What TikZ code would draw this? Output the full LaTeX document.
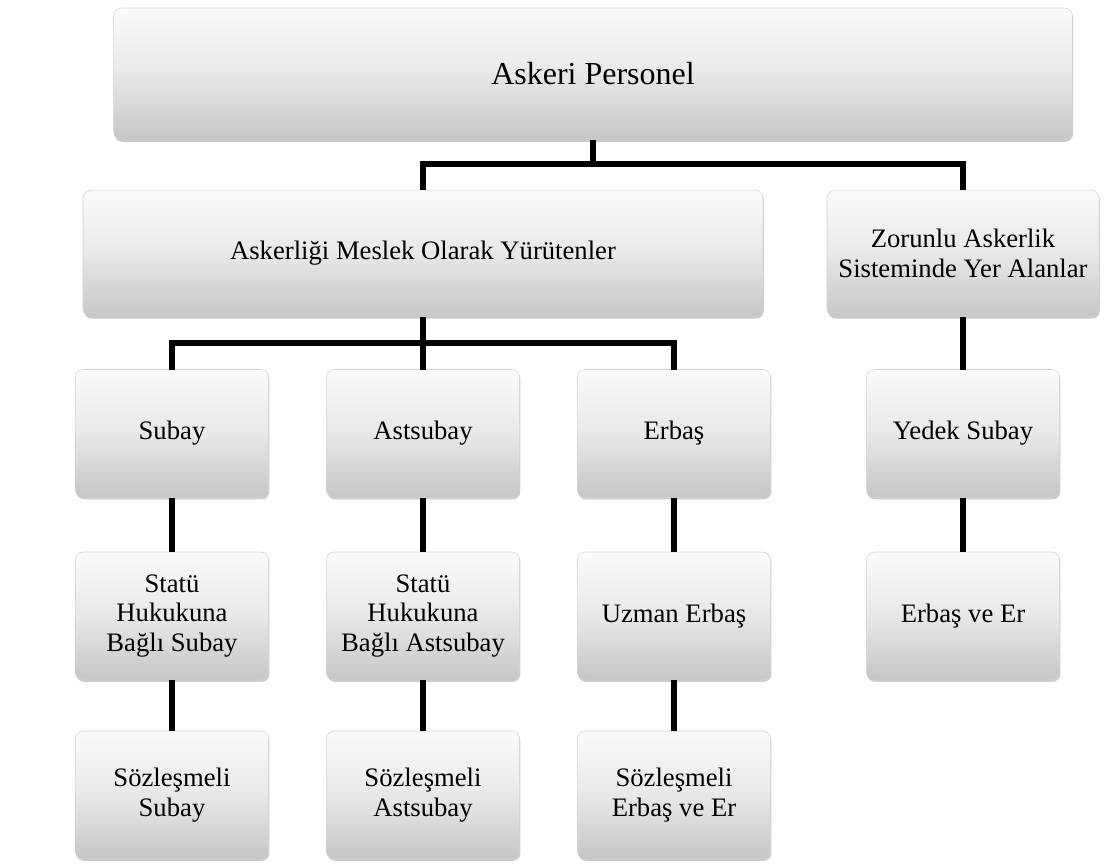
\documentclass[tikz,border=0pt]{standalone}
\usepackage{fontspec}
\setmainfont{Liberation Serif}
\usetikzlibrary{positioning,shadows}
\definecolor{boxtop}{HTML}{FBFBFB}
\definecolor{boxmid}{HTML}{E8E8E8}
\definecolor{boxbot}{HTML}{C6C6C6}
\definecolor{boxedge}{HTML}{D2D2D2}
\tikzset{
  box/.style={draw=boxedge, line width=0.4pt, rounded corners=6pt, top color=boxtop, bottom color=boxbot, middle color=boxmid, align=center, outer sep=0pt, inner sep=4pt, font=\fontsize{20}{22}\selectfont, drop shadow={shadow xshift=0.6pt, shadow yshift=-1.4pt, opacity=0.35, fill=black!60}},
  headbox/.style={box, minimum width=719pt, minimum height=99pt, font=\fontsize{24}{28}\selectfont},
  groupbox/.style={box, minimum height=95pt},
  rankbox/.style={box, minimum width=145pt, minimum height=96pt},
  conn/.style={line width=3.8pt, black},
}

\begin{document}
\begin{tikzpicture}[x=0.75pt, y=-0.75pt]
  \useasboundingbox (0,0) rectangle (1105,866);
  \node[headbox] (pers) at (593,74) {Askeri Personel};
  \node[groupbox, minimum width=510pt] (meslek) at (423,253.5) {Askerliği Meslek Olarak Yürütenler};
  \node[groupbox, minimum width=204pt] (zorunlu) at (963,253.5) {Zorunlu Askerlik\\Sisteminde Yer Alanlar};
  % meslek kolu
  \node[rankbox] (subay) at (172,433.5) {Subay};
  \node[rankbox] (astsubay) at (423,433.5) {Astsubay};
  \node[rankbox] (erbas) at (674,433.5) {Erbaş};
  \node[rankbox] (statusubay) at (172,616) {Statü\\Hukukuna\\Bağlı Subay};
  \node[rankbox] (statuastsubay) at (423,616) {Statü\\Hukukuna\\Bağlı Astsubay};
  \node[rankbox] (uzman) at (674,616) {Uzman Erbaş};
  \node[rankbox] (szsubay) at (172,795) {Sözleşmeli\\Subay};
  \node[rankbox] (szastsubay) at (423,795) {Sözleşmeli\\Astsubay};
  \node[rankbox] (szerbas) at (674,795) {Sözleşmeli\\Erbaş ve Er};
  % zorunlu kolu
  \node[rankbox] (yedek) at (963,433.5) {Yedek Subay};
  \node[rankbox] (erbaser) at (963,616) {Erbaş ve Er};
  % baglantilar
  \coordinate (j1) at (593,164);
  \coordinate (j2) at (423,343);
  \draw[conn] (pers.south) -- (j1);
  \draw[conn] (meslek.north) |- (j1) -| (zorunlu.north);
  \draw[conn] (meslek.south) -- (j2);
  \draw[conn] (subay.north) |- (j2) -| (erbas.north);
  \draw[conn] (j2) -- (astsubay.north);
  \draw[conn] (subay) -- (statusubay);
  \draw[conn] (statusubay) -- (szsubay);
  \draw[conn] (astsubay) -- (statuastsubay);
  \draw[conn] (statuastsubay) -- (szastsubay);
  \draw[conn] (erbas) -- (uzman);
  \draw[conn] (uzman) -- (szerbas);
  \draw[conn] (zorunlu) -- (yedek);
  \draw[conn] (yedek) -- (erbaser);
\end{tikzpicture}
\end{document}
